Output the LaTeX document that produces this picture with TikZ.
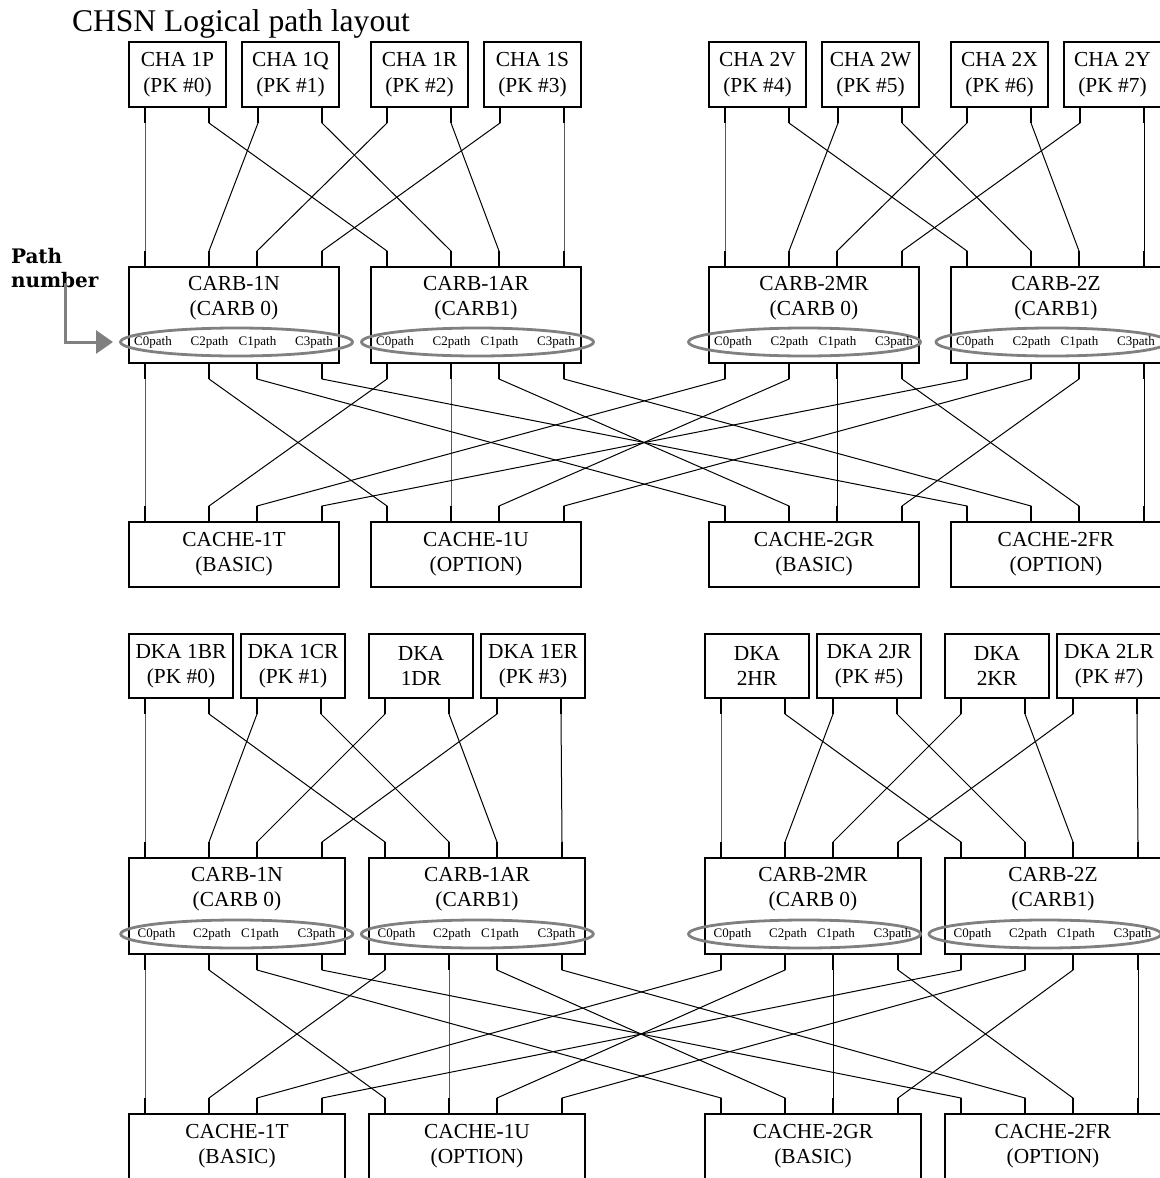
\documentclass[tikz,border=0pt]{standalone}
\usepackage{fontspec}
\setmainfont{Liberation Serif}
\newfontfamily\slabfont{DejaVu Serif}
\usetikzlibrary{positioning,calc,shapes.geometric,arrows.meta}

\definecolor{ovalgray}{RGB}{128,128,128}

% stub - run - stub between two ports
\newcommand{\pathlink}[2]{%
  \draw[wire] (#1) -- ++(0,16) -- ($(#2)+(0,-16)$) -- (#2);
  \draw[stub] (#1) -- ++(0,16);
  \draw[stub] (#2) -- ++(0,-16);
}

\begin{document}
\begin{tikzpicture}[x=0.5pt,y=-0.5pt]
\tikzset{every node/.style={inner sep=0pt, outer sep=0pt}}
\tikzset{
  boxtext/.style={align=center, font=\fontsize{10.7}{12.75}\selectfont},
  pkbox/.style={draw, line width=1pt, boxtext, minimum width=48.5pt, minimum height=32.5pt},
  dkabox/.style={pkbox, minimum width=52pt, minimum height=32pt},
  carbbox/.style={draw, line width=1pt, minimum width=105pt, minimum height=48pt},
  cachebox/.style={carbbox, minimum height=32.5pt},
  lcarbbox/.style={carbbox, minimum width=108pt},
  lcachebox/.style={carbbox, minimum width=108pt, minimum height=35pt},
  oval/.style={draw=ovalgray, line width=1.4pt, ellipse, minimum width=116pt, minimum height=14pt},
  pathlbl/.style={font=\fontsize{6.5}{7}\selectfont},
  wire/.style={line width=0.5pt},
  stub/.style={line width=1pt},
  pointer/.style={draw=ovalgray, line width=1.5pt, -{Triangle[length=8.5pt,width=11.5pt]}, shorten >=3.75pt}
}
\useasboundingbox (0,0) rectangle (1160,1178);

\node[anchor=base west, font=\fontsize{15.8}{19}\selectfont] (title) at (72,32) {CHSN Logical path layout};

% upper half
\node[pkbox] (cha1p) at (177.5,74.5) {CHA 1P\\(PK \#0)};
\node[pkbox] (cha1q) at (290.5,74.5) {CHA 1Q\\(PK \#1)};
\node[pkbox] (cha1r) at (419.5,74.5) {CHA 1R\\(PK \#2)};
\node[pkbox] (cha1s) at (532.5,74.5) {CHA 1S\\(PK \#3)};
\node[pkbox] (cha2v) at (757.5,74.5) {CHA 2V\\(PK \#4)};
\node[pkbox] (cha2w) at (870.5,74.5) {CHA 2W\\(PK \#5)};
\node[pkbox] (cha2x) at (999.5,74.5) {CHA 2X\\(PK \#6)};
\node[pkbox] (cha2y) at (1112.5,74.5) {CHA 2Y\\(PK \#7)};

\node[carbbox] (carb1n) at (234,315) {};
\node[carbbox] (carb1ar) at (476,315) {};
\node[carbbox] (carb2mr) at (814,315) {};
\node[carbbox] (carb2z) at (1056,315) {};
\node[boxtext, below=4.5pt of carb1n.north] (carb1n-name) {CARB-1N\\(CARB 0)};
\node[boxtext, below=4.5pt of carb1ar.north] (carb1ar-name) {CARB-1AR\\(CARB1)};
\node[boxtext, below=4.5pt of carb2mr.north] (carb2mr-name) {CARB-2MR\\(CARB 0)};
\node[boxtext, below=4.5pt of carb2z.north] (carb2z-name) {CARB-2Z\\(CARB1)};
\node[oval] (carb1n-o) at (236.5,342) {};
\node[oval] (carb1ar-o) at (477.5,342) {};
\node[oval] (carb2mr-o) at (804.5,342) {};
\node[oval] (carb2z-o) at (1052,342) {};

\node[cachebox] (cache1t) at (234,554.5) {};
\node[cachebox] (cache1u) at (476,554.5) {};
\node[cachebox] (cache2gr) at (814,554.5) {};
\node[cachebox] (cache2fr) at (1056,554.5) {};
\node[boxtext, below=5pt of cache1t.north] (cache1t-name) {CACHE-1T\\(BASIC)};
\node[boxtext, below=5pt of cache1u.north] (cache1u-name) {CACHE-1U\\(OPTION)};
\node[boxtext, below=5pt of cache2gr.north] (cache2gr-name) {CACHE-2GR\\(BASIC)};
\node[boxtext, below=5pt of cache2fr.north] (cache2fr-name) {CACHE-2FR\\(OPTION)};

% lower half
\node[dkabox] (dka1br) at (181,666) {DKA 1BR\\(PK \#0)};
\node[dkabox] (dka1cr) at (293,666) {DKA 1CR\\(PK \#1)};
\node[dkabox] (dka1dr) at (421,666) {DKA\\1DR};
\node[dkabox] (dka1er) at (533,666) {DKA 1ER\\(PK \#3)};
\node[dkabox] (dka2hr) at (757,666) {DKA\\2HR};
\node[dkabox] (dka2jr) at (869,666) {DKA 2JR\\(PK \#5)};
\node[dkabox] (dka2kr) at (997,666) {DKA\\2KR};
\node[dkabox] (dka2lr) at (1109,666) {DKA 2LR\\(PK \#7)};

\node[lcarbbox] (lcarb1n) at (237,906) {};
\node[lcarbbox] (lcarb1ar) at (477,906) {};
\node[lcarbbox] (lcarb2mr) at (813,906) {};
\node[lcarbbox] (lcarb2z) at (1053,906) {};
\node[boxtext, below=4.5pt of lcarb1n.north] (lcarb1n-name) {CARB-1N\\(CARB 0)};
\node[boxtext, below=4.5pt of lcarb1ar.north] (lcarb1ar-name) {CARB-1AR\\(CARB1)};
\node[boxtext, below=4.5pt of lcarb2mr.north] (lcarb2mr-name) {CARB-2MR\\(CARB 0)};
\node[boxtext, below=4.5pt of lcarb2z.north] (lcarb2z-name) {CARB-2Z\\(CARB1)};
\node[oval] (lcarb1n-o) at (236.75,934) {};
\node[oval] (lcarb1ar-o) at (477.3,934) {};
\node[oval] (lcarb2mr-o) at (804.5,934) {};
\node[oval] (lcarb2z-o) at (1045,934) {};

\node[lcachebox] (lcache1t) at (237,1149) {};
\node[lcachebox] (lcache1u) at (477,1149) {};
\node[lcachebox] (lcache2gr) at (813,1149) {};
\node[lcachebox] (lcache2fr) at (1053,1149) {};
\node[boxtext, below=5pt of lcache1t.north] (lcache1t-name) {CACHE-1T\\(BASIC)};
\node[boxtext, below=5pt of lcache1u.north] (lcache1u-name) {CACHE-1U\\(OPTION)};
\node[boxtext, below=5pt of lcache2gr.north] (lcache2gr-name) {CACHE-2GR\\(BASIC)};
\node[boxtext, below=5pt of lcache2fr.north] (lcache2fr-name) {CACHE-2FR\\(OPTION)};

% path labels inside the ovals
\foreach \bn in {carb1n,carb1ar,carb2mr,carb2z}{
  \foreach \pp/\off/\lbl in {0/24/C0path,1/80.5/C2path,2/128.5/C1path,3/185/C3path}{
    \node[pathlbl] (\bn-t\pp) at ($(\bn.south west)+(\off,-21)$) {\lbl};
  }
}
\foreach \bn in {lcarb1n,lcarb1ar,lcarb2mr,lcarb2z}{
  \foreach \pp/\off/\lbl in {0/27.5/C0path,1/83/C2path,2/131/C1path,3/187.5/C3path}{
    \node[pathlbl] (\bn-t\pp) at ($(\bn.south west)+(\off,-20)$) {\lbl};
  }
}

% ports
\foreach \bn in {cha1p,cha1q,cha1r,cha1s,cha2v,cha2w,cha2x,cha2y,dka1br,dka1cr,dka1dr,dka1er,dka2hr,dka2jr,dka2kr,dka2lr}{
  \coordinate (\bn-0) at ($(\bn.south west)+(16,0)$);
  \coordinate (\bn-1) at ($(\bn.south west)+(80,0)$);
}
\foreach \bn in {carb1n,carb1ar,carb2mr,carb2z,lcarb1n,lcarb1ar,lcarb2mr,lcarb2z}{
  \foreach \pp/\off in {0/16,1/80,2/128,3/193}{
    \coordinate (\bn-n\pp) at ($(\bn.north west)+(\off,0)$);
    \coordinate (\bn-s\pp) at ($(\bn.south west)+(\off,0)$);
  }
}
\foreach \bn in {cache1t,cache1u,cache2gr,cache2fr,lcache1t,lcache1u,lcache2gr,lcache2fr}{
  \foreach \pp/\off in {0/16,1/80,2/128,3/193}{
    \coordinate (\bn-\pp) at ($(\bn.north west)+(\off,0)$);
  }
}

% CHA / DKA to CARB
\foreach \kk/\bn/\ln/\rn in {0/cha1p/carb1n/carb1ar, 1/cha1q/carb1n/carb1ar,
    2/cha1r/carb1n/carb1ar, 3/cha1s/carb1n/carb1ar,
    0/cha2v/carb2mr/carb2z, 1/cha2w/carb2mr/carb2z,
    2/cha2x/carb2mr/carb2z, 3/cha2y/carb2mr/carb2z,
    0/dka1br/lcarb1n/lcarb1ar, 1/dka1cr/lcarb1n/lcarb1ar,
    2/dka1dr/lcarb1n/lcarb1ar, 3/dka1er/lcarb1n/lcarb1ar,
    0/dka2hr/lcarb2mr/lcarb2z, 1/dka2jr/lcarb2mr/lcarb2z,
    2/dka2kr/lcarb2mr/lcarb2z, 3/dka2lr/lcarb2mr/lcarb2z}{
  \pathlink{\bn-0}{\ln-n\kk}
  \pathlink{\bn-1}{\rn-n\kk}
}

% CARB to CACHE
\foreach \jj/\cn in {0/carb1n,1/carb1ar,2/carb2mr,3/carb2z}{
  \foreach \pp/\kn in {0/cache1t,1/cache1u,2/cache2gr,3/cache2fr}{
    \pathlink{\cn-s\pp}{\kn-\jj}
  }
}
\foreach \jj/\cn in {0/lcarb1n,1/lcarb1ar,2/lcarb2mr,3/lcarb2z}{
  \foreach \pp/\kn in {0/lcache1t,1/lcache1u,2/lcache2gr,3/lcache2fr}{
    \pathlink{\cn-s\pp}{\kn-\jj}
  }
}

% path number callout
\node[anchor=north west, align=left, font=\slabfont\bfseries\fontsize{10}{12}\selectfont] (pathnum) at (11,248) {Path\\number};
\coordinate (pn-foot) at (65,283);
\draw[pointer] (pn-foot) |- (carb1n-o);
\end{tikzpicture}
\end{document}
